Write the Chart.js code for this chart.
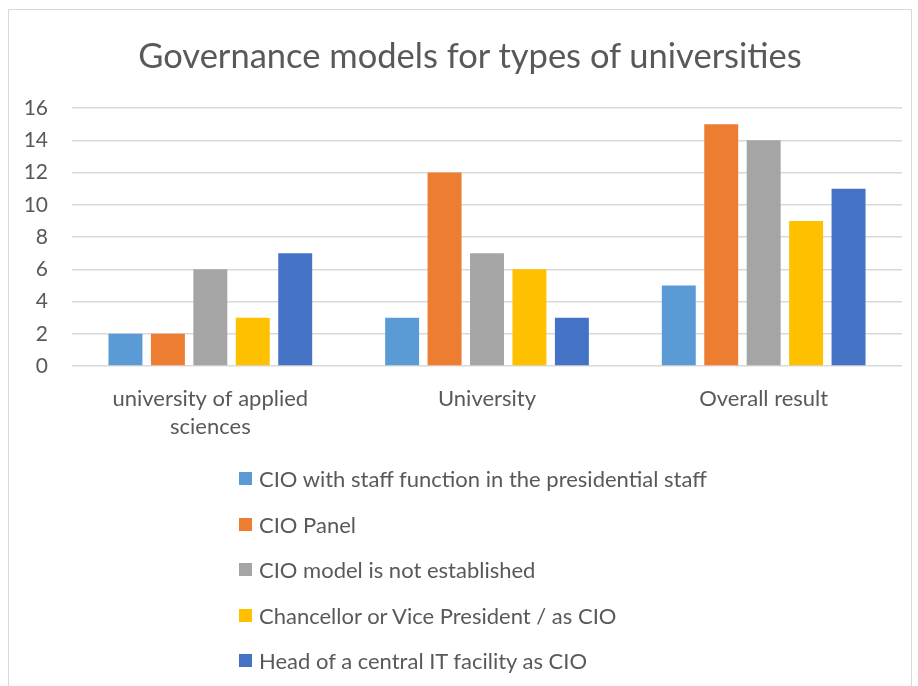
<!DOCTYPE html>
<html>
<head>
<meta charset="utf-8">
<script src="https://cdn.jsdelivr.net/npm/chart.js@4"></script>
<style>
html,body{margin:0;padding:0;background:#fff}
body{width:918px;height:686px;position:relative;overflow:hidden;font-family:Lato,"Open Sans",sans-serif}
#frame{position:absolute;left:8px;top:9px;width:904px;height:700px;border:1px solid #d9d9d9;box-sizing:border-box}
#wrap{position:absolute;left:0;top:0;width:918px;height:686px}
#title{position:absolute;left:270px;width:400px;top:34px;height:42px;line-height:42px;text-align:center;white-space:nowrap;display:flex;justify-content:center;color:#595959;font-size:34.5px}
#legend{position:absolute;left:239px;top:456px;color:#595959;font-size:22px}
#legend .it{height:45.5px;display:flex;align-items:center;white-space:nowrap}
#legend .sw{width:13px;height:13px;margin-right:7px;flex:none}
</style>
</head>
<body>
<div id="frame"></div>
<div id="wrap"><canvas id="chart" width="918" height="686"></canvas></div>
<div id="title">Governance models for types of universities</div>
<div id="legend"></div>
<script>
// categories and series (counts per university type)
const categories=[["university of applied","sciences"],"University","Overall result"];
const seriesNames=["CIO with staff function in the presidential staff","CIO Panel","CIO model is not established","Chancellor or Vice President / as CIO","Head of a central IT facility as CIO"];
const seriesColors=["#5B9BD5","#ED7D31","#A5A5A5","#FFC000","#4472C4"];
const staffFunction=[2,3,5];
const cioPanel=[2,12,15];
const notEstablished=[6,7,14];
const chancellorVP=[3,6,9];
const headOfIT=[7,3,11];
const yTicks=[0,2,4,6,8,10,12,14,16];

const values=[staffFunction,cioPanel,notEstablished,chancellorVP,headOfIT];
const txt="#595959";
const datasets=values.map((v,i)=>({label:seriesNames[i],data:v,backgroundColor:seriesColors[i],borderWidth:0,categoryPercentage:0.767,barPercentage:0.8}));

const chart=new Chart(document.getElementById("chart"),{
  type:"bar",
  data:{labels:categories,datasets},
  options:{
    responsive:false,animation:false,
    layout:{padding:{left:0,right:16,top:108,bottom:0}},
    plugins:{legend:{display:false},tooltip:{enabled:false}},
    scales:{
      x:{grid:{display:false},border:{display:false},
        ticks:{color:txt,font:{family:"Lato",size:22,lineHeight:1.27},padding:11,maxRotation:0,autoSkip:false},
        afterFit(s){s.height=320}},
      y:{min:0,max:16,afterBuildTicks(s){s.ticks=yTicks.map(v=>({value:v}))},
        grid:{color:"#d9d9d9",lineWidth:1.5,drawTicks:false},border:{display:false},
        ticks:{color:txt,font:{family:"Lato",size:21},padding:24},
        afterFit(s){s.width=72}}
    }
  }
});

// legend as a vertical list below the plot
const lg=document.getElementById("legend");
chart.data.datasets.forEach(d=>{
  const it=document.createElement("div");it.className="it";
  it.innerHTML=`<span class="sw" style="background:${d.backgroundColor}"></span><span>${d.label}</span>`;
  lg.appendChild(it);
});
</script>
</body>
</html>
